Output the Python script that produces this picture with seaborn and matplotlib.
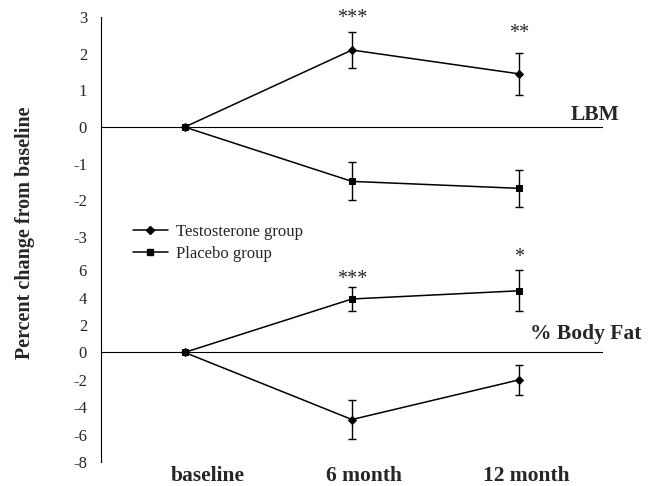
import matplotlib
matplotlib.use("Agg")
import matplotlib.pyplot as plt
import seaborn as sns
import pandas as pd
import numpy as np

# Time points and groups
timepoints = ["baseline", "6 month", "12 month"]
groups = ["Testosterone group", "Placebo group"]

# Lean body mass, percent change from baseline (mean and SE)
lbm_testo = [0.0, 2.1, 1.45]
lbm_testo_se = [0.0, 0.5, 0.58]
lbm_placebo = [0.0, -1.48, -1.67]
lbm_placebo_se = [0.0, 0.52, 0.5]

# Percent body fat, percent change from baseline (mean and SE)
fat_testo = [0.0, -4.9, -2.0]
fat_testo_se = [0.0, 1.4, 1.1]
fat_placebo = [0.0, 3.9, 4.5]
fat_placebo_se = [0.0, 0.9, 1.5]

# Significance markers: panel, time index, label
star_panels = ["LBM", "LBM", "FAT", "FAT"]
star_times = [1, 2, 1, 2]
star_labels = ["***", "**", "***", "*"]

sns.set_style("white")
plt.rcParams["font.family"] = ["Liberation Serif", "DejaVu Serif"]
plt.rcParams["axes.unicode_minus"] = False

fig = plt.figure(figsize=(6.49, 4.86), dpi=100)
ax_top = fig.add_axes([0.1556, 0.506, 0.7734, 0.459])
ax_bot = fig.add_axes([0.1556, 0.0494, 0.7734, 0.4566])

markers = {"Testosterone group": "D", "Placebo group": "s"}
x = np.arange(len(timepoints))


def panel(ax, testo, testo_se, placebo, placebo_se):
    df = pd.DataFrame({
        "time": np.concatenate([x, x]),
        "change": testo + placebo,
        "group": [groups[0]] * len(x) + [groups[1]] * len(x),
    })
    sns.lineplot(data=df, x="time", y="change", style="group", markers=markers,
                 dashes=False, color="black", linewidth=1.1, markersize=4.5,
                 markeredgecolor="black", ax=ax, legend=False)
    for vals, se in [(testo, testo_se), (placebo, placebo_se)]:
        ax.errorbar(x[1:], vals[1:], yerr=se[1:], fmt="none", ecolor="black",
                    elinewidth=1.0, capsize=3, capthick=1.0)
    ax.axhline(0, color="black", linewidth=0.8, zorder=0)
    ax.set_xlim(-0.5, 2.5)
    for s in ["top", "right", "bottom"]:
        ax.spines[s].set_visible(False)
    ax.spines["left"].set_color("black")
    ax.spines["left"].set_linewidth(0.8)
    ax.set_xlabel("")
    ax.set_ylabel("")
    ax.tick_params(axis="y", length=0, pad=10, labelsize=12)
    ax.set_facecolor("none")


panel(ax_top, lbm_testo, lbm_testo_se, lbm_placebo, lbm_placebo_se)
panel(ax_bot, fat_testo, fat_testo_se, fat_placebo, fat_placebo_se)

ax_top.set_ylim(-3.08, 3)
ax_top.set_yticks(range(-3, 4))
ax_top.set_xticks([])

ax_bot.set_ylim(-8, 8.2)
ax_bot.set_yticks(range(-8, 7, 2))
# category labels sit slightly right of their points
ax_bot.set_xticks(x + np.array([0.14, 0.07, 0.04]))
ax_bot.set_xticklabels(timepoints, fontsize=15.5, fontweight="bold")
ax_bot.tick_params(axis="x", length=0, pad=3)

# Significance asterisks above the upper error bar (offsets in points)
panels = {
    "LBM": (ax_top, lbm_testo, lbm_testo_se, lbm_placebo, lbm_placebo_se),
    "FAT": (ax_bot, fat_testo, fat_testo_se, fat_placebo, fat_placebo_se),
}
star_offsets = [6.5, 10.8, 1.8, 5.9]
for key, i, label, off in zip(star_panels, star_times, star_labels, star_offsets):
    ax, t, tse, p, pse = panels[key]
    top = max(t[i] + tse[i], p[i] + pse[i])
    ax.annotate(label, (x[i], top), xytext=(0, off), textcoords="offset points",
                ha="center", va="baseline", fontsize=14.5,
                annotation_clip=False)

ax_top.text(2.60, 0.19, "LBM", ha="right", va="baseline", fontsize=15.5,
            fontweight="bold")
ax_bot.text(2.73, 1.0, "% Body Fat", ha="right", va="baseline", fontsize=15.5,
            fontweight="bold")

fig.text(0.0385, 0.522, "Percent change from baseline", rotation=90,
         ha="center", va="center", fontsize=14.5, fontweight="bold")

handles = [
    plt.Line2D([], [], color="black", marker=markers[g], markersize=4.5,
               linewidth=1.1)
    for g in groups
]
fig.legend(handles, groups, loc="center left", bbox_to_anchor=(0.192, 0.500),
           frameon=False, fontsize=12, borderpad=0, handlelength=2.1,
           handletextpad=0.5, labelspacing=0.4, numpoints=1)

fig.savefig("out.png", dpi=100)
